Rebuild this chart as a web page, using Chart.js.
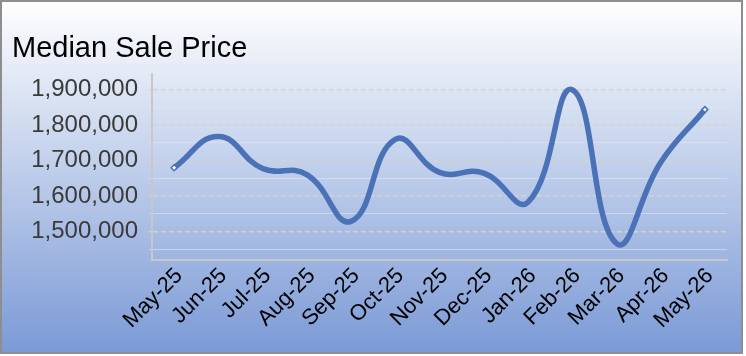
<!DOCTYPE html>
<html>
<head>
<meta charset="utf-8">
<script src="https://cdn.jsdelivr.net/npm/chart.js@4/dist/chart.umd.min.js"></script>
<style>
body { margin: 0; background: #fff; }
#box {
  position: absolute; left: 0; top: 0;
  width: 739px; height: 350px;
  border: 2px solid #8e8e8e;
  background: linear-gradient(#fefefe, #7b9ad6);
}
canvas { display: block; }
</style>
</head>
<body>
<div id="box"><canvas id="myChart" width="739" height="350" style="width:739px;height:350px"></canvas></div>
<script>
var months = ["May-25", "Jun-25", "Jul-25", "Aug-25", "Sep-25", "Oct-25", "Nov-25",
              "Dec-25", "Jan-26", "Feb-26", "Mar-26", "Apr-26", "May-26"];
var prices = [1680000, 1768000, 1678000, 1661000, 1529000, 1760000, 1667000,
              1665000, 1583000, 1900000, 1467000, 1695000, 1844000];
// major ticks every 100k get a label, the 50k ones are minor grid lines only
var yTicks = [1450000, 1500000, 1550000, 1600000, 1650000, 1700000,
              1750000, 1800000, 1850000, 1900000];

var font = 'Liberation Sans, Arial, sans-serif';
var blue = '#4b71b7';

function isMajor(v) { return v % 100000 === 0; }

var ctx = document.getElementById('myChart').getContext('2d');
var chart = new Chart(ctx, {
  type: 'line',
  data: {
    labels: months,
    datasets: [{
      label: 'Median Sale Price',
      data: prices,
      borderColor: blue,
      borderWidth: 5.5,
      tension: 0.45,
      fill: false,
      pointStyle: 'rectRot',
      pointRadius: function (c) {
        return (c.dataIndex === 0 || c.dataIndex === months.length - 1) ? 3 : 0;
      },
      pointBackgroundColor: '#fff',
      pointBorderColor: blue,
      pointBorderWidth: 1.5
    }]
  },
  options: {
    responsive: false,
    animation: false,
    layout: { padding: { left: 10, right: 14, top: 2, bottom: 0 } },
    plugins: {
      legend: { display: false },
      tooltip: { enabled: false },
      title: {
        display: true,
        text: 'Median Sale Price',
        align: 'start',
        color: '#000',
        font: { family: font, size: 29, weight: 'normal' },
        padding: { top: 28, bottom: 7 }
      }
    },
    scales: {
      x: {
        offset: true,
        grid: { display: false },
        border: { color: '#c8c8c8', width: 2 },
        ticks: {
          autoSkip: false,
          minRotation: 45, maxRotation: 45,
          color: '#000',
          font: { family: font, size: 22 },
          padding: -5,
          labelOffset: 5
        },
        afterFit: function (s) { s.height = 92; }
      },
      y: {
        min: 1420000,
        max: 1945000,
        afterBuildTicks: function (s) {
          s.ticks = yTicks.map(function (v) { return { value: v }; });
        },
        ticks: {
          autoSkip: false,
          color: '#3a3a3a',
          font: { family: font, size: 24 },
          padding: 11,
          callback: function (v) { return isMajor(v) ? v.toLocaleString('en-US') : ''; }
        },
        grid: {
          color: function (c) { return c.tick && isMajor(c.tick.value) ? '#d3d3d3' : 'rgba(225,230,240,0.6)'; },
          lineWidth: function (c) { return c.tick && isMajor(c.tick.value) ? 1.5 : 1; },
          tickLength: 3
        },
        border: {
          color: '#c8c8c8',
          width: 2,
          dash: function (c) { return c.tick && isMajor(c.tick.value) ? [5, 3] : []; }
        },
        afterFit: function (s) { s.width = 140; }
      }
    }
  }
});
</script>
</body>
</html>
